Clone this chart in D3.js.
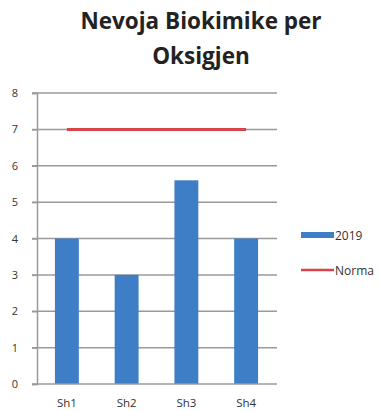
<!DOCTYPE html>
<html>
<head>
<meta charset="utf-8">
<script src="https://cdn.jsdelivr.net/npm/d3@7"></script>
<style>
  html, body { margin: 0; padding: 0; background: #fff; }
  svg { display: block; }
</style>
</head>
<body>
<svg id="chart" width="379" height="411"></svg>
<script>
// Biochemical oxygen demand per sampling station, with the norm limit
const categories = ["Sh1", "Sh2", "Sh3", "Sh4"];
const values2019 = [4, 3, 5.6, 4];
const normValues = [7, 7, 7, 7];
const yTicks = [0, 1, 2, 3, 4, 5, 6, 7, 8];
const titleLines = ["Nevoja Biokimike per", "Oksigjen"];
const legendLabels = ["2019", "Norma"];

const svg = d3.select("#chart");
const font = "'Open Sans', 'Liberation Sans', sans-serif";

const x = d3.scaleBand().domain(categories).range([37, 276])
  .paddingInner(0.6).paddingOuter(0.3);
const y = d3.scaleLinear().domain([0, 8]).range([384, 93]);

// Title
svg.append("g").selectAll("text").data(titleLines).join("text")
  .attr("x", 201).attr("y", (d, i) => 29 + i * 35)
  .attr("text-anchor", "middle")
  .attr("font-family", font).attr("font-weight", 700)
  .attr("font-size", 22.5).attr("fill", "#222")
  .text(d => d);

// Horizontal gridlines
svg.append("g").selectAll("line").data(yTicks.filter(t => t > 0)).join("line")
  .attr("x1", 32).attr("x2", 277)
  .attr("y1", d => y(d)).attr("y2", d => y(d))
  .attr("stroke", "#9a9a9a").attr("stroke-width", 1.5);

// Y axis
const yAxis = svg.append("g").attr("transform", "translate(37,0)")
  .call(d3.axisLeft(y).tickValues(yTicks).tickSize(5).tickPadding(14));
yAxis.select(".domain").attr("stroke", "#9a9a9a").attr("stroke-width", 1.5);
yAxis.selectAll(".tick line").attr("stroke", "#9a9a9a").attr("stroke-width", 1.5);
yAxis.selectAll("text").attr("font-family", font).attr("font-size", 11)
  .attr("fill", "#333");

// Bars
svg.append("g").selectAll("rect").data(categories).join("rect")
  .attr("x", d => x(d)).attr("width", x.bandwidth())
  .attr("y", (d, i) => y(values2019[i]))
  .attr("height", (d, i) => y(0) - y(values2019[i]))
  .attr("fill", "#3d7ec6");

// X axis
const xAxis = svg.append("g").attr("transform", "translate(0,384)")
  .call(d3.axisBottom(x).tickSize(0).tickPadding(15));
xAxis.select(".domain").attr("stroke", "#9a9a9a").attr("stroke-width", 1.5)
  .attr("d", "M32,0H277");
xAxis.selectAll("text").attr("font-family", font).attr("font-size", 11.5)
  .attr("fill", "#333");

// Norm line
const line = d3.line()
  .x((d, i) => x(categories[i]) + x.bandwidth() / 2)
  .y(d => y(d));
svg.append("path").datum(normValues).attr("d", line)
  .attr("fill", "none").attr("stroke", "#d9434a").attr("stroke-width", 3);

// Legend
const legend = svg.append("g").attr("font-family", font).attr("font-size", 12)
  .attr("fill", "#333");
legend.append("rect").attr("x", 301).attr("y", 232).attr("width", 33).attr("height", 6)
  .attr("fill", "#3d7ec6");
legend.append("text").attr("x", 335).attr("y", 239.5).text(legendLabels[0]);
legend.append("line").attr("x1", 301).attr("x2", 334).attr("y1", 270).attr("y2", 270)
  .attr("stroke", "#d9434a").attr("stroke-width", 2.5);
legend.append("text").attr("x", 335).attr("y", 274.5).text(legendLabels[1]);
</script>
</body>
</html>
